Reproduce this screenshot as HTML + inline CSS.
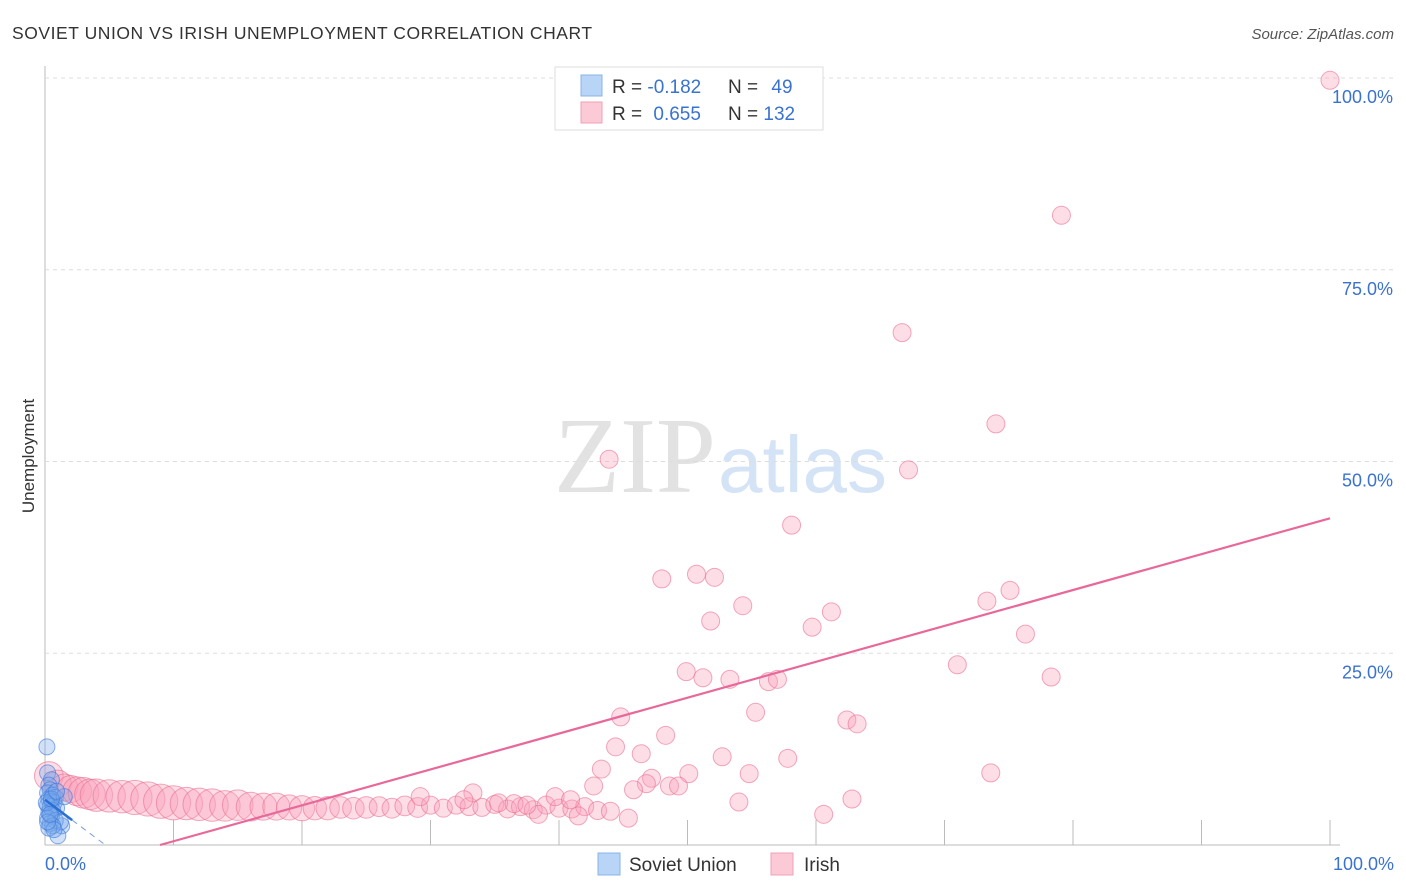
<!DOCTYPE html>
<html><head><meta charset="utf-8"><style>
body{margin:0;background:#fff;font-family:"Liberation Sans",sans-serif}
svg{display:block}
</style></head><body>
<svg id="c" width="1406" height="892">
<text x="12" y="39" font-size="17.5" fill="#333" letter-spacing="0.55">SOVIET UNION VS IRISH UNEMPLOYMENT CORRELATION CHART</text>
<text x="1394" y="39" font-size="15" fill="#555" text-anchor="end" font-style="italic">Source: ZipAtlas.com</text>
<text x="716" y="492" font-size="108" fill="#e2e2e2" text-anchor="end" font-family="Liberation Serif">ZIP</text>
<text x="718" y="492" font-size="80" fill="#d4e3f5">atlas</text>
<text transform="translate(34,456) rotate(-90)" font-size="17" fill="#333" text-anchor="middle">Unemployment</text>
<g id="grid"></g><g id="pink"></g><g id="blue"></g><g id="lines"></g>
<g>
<rect x="555" y="67" width="268" height="63" fill="#fff" stroke="#ddd"/>
<rect x="581" y="75" width="21" height="21" fill="#b8d4f6" stroke="#8ab3e8"/>
<rect x="581" y="102" width="21" height="21" fill="#fcc9d6" stroke="#f0a0b8"/>
<text x="612" y="93" font-size="19" fill="#333">R = <tspan fill="#3a72d0">-0.182</tspan></text>
<text x="728" y="93" font-size="19" fill="#333">N = <tspan fill="#3a72d0" dx="8">49</tspan></text>
<text x="612" y="120" font-size="19" fill="#333">R = <tspan fill="#3a72d0" dx="6">0.655</tspan></text>
<text x="728" y="120" font-size="19" fill="#333">N = <tspan fill="#3a72d0">132</tspan></text>
</g>
<g>
<rect x="598" y="853" width="22" height="22" fill="#b8d4f6" stroke="#8ab3e8"/>
<text x="629" y="871" font-size="19" fill="#333">Soviet Union</text>
<rect x="771" y="853" width="22" height="22" fill="#fcc9d6" stroke="#f0a0b8"/>
<text x="804" y="871" font-size="19" fill="#333">Irish</text>
</g>
<text x="45" y="870" font-size="18" fill="#3a72d0">0.0%</text>
<text x="1394" y="870" font-size="18" fill="#3a72d0" text-anchor="end">100.0%</text>
</svg>
<script>
const yTicks=[25,50,75,100];
const yTickLabels=["25.0%","50.0%","75.0%","100.0%"];
const xTicks=[10,20,30,40,50,60,70,80,90,100];
const pinkX=[100,79.1,66.7,74.0,67.2,43.9,58.1,48.0,50.7,52.1,54.3,51.8,61.2,59.7,75.1,73.3,76.3,71.0,78.3,49.9,51.2,53.3,56.3,57.0,55.3,44.8,62.4,63.2,48.3,44.4,46.4,52.7,57.8,43.3,50.1,54.8,73.6,47.2,46.8,45.8,48.6,49.3,42.7,54.0,62.8,60.6,45.4,
0.3,1,1.5,2,2.5,3,3.5,4,5,6,7,8,9,10,11,12,13,14,15,16,17,18,19,20,21,22,23,24,25,26,27,28,29,30,31,32,33,34,35,36,37,38,39,40,41,42,43,44,29.2,33.3,32.6,35.3,39.7,40.9,38.4,41.5,36.5,37.5];
const pinkY=[99.7,82.1,66.8,54.9,48.9,50.3,41.7,34.7,35.3,34.9,31.2,29.2,30.4,28.4,33.2,31.8,27.5,23.5,21.9,22.6,21.8,21.6,21.3,21.6,17.3,16.7,16.3,15.8,14.3,12.8,11.9,11.5,11.3,9.9,9.3,9.3,9.4,8.7,8.0,7.2,7.7,7.7,7.7,5.6,6.0,4.0,3.5,
9.0,8.0,7.5,7.3,7.0,6.8,6.6,6.5,6.4,6.3,6.2,6.0,5.7,5.5,5.4,5.3,5.2,5.1,5.2,5.0,5.0,5.0,4.9,4.8,4.8,4.8,4.9,4.8,4.9,5.0,4.8,5.1,4.9,5.2,4.8,5.2,5.0,4.9,5.3,4.7,5.0,4.6,5.2,4.8,4.7,5.0,4.5,4.4,6.3,6.8,5.9,5.5,6.3,5.9,4.0,3.8,5.4,5.2];
const pinkSize=[1,1,1,1,1,1,1,1,1,1,1,1,1,1,1,1,1,1,1,1,1,1,1,1,1,1,1,1,1,1,1,1,1,1,1,1,1,1,1,1,1,1,1,1,1,1,1,
1.6,1.5,1.5,1.5,1.6,1.7,1.7,1.8,1.8,1.8,1.9,1.9,1.9,1.9,1.8,1.8,1.8,1.7,1.7,1.6,1.5,1.5,1.4,1.4,1.3,1.3,1.2,1.2,1.2,1.1,1.1,1.1,1.1,1,1,1,1,1,1,1,1,1,1,1,1,1,1,1,1,1,1,1,1,1,1,1,1,1];
const blueX=[0.15,0.2,0.5,0.3,0.4,0.2,0.6,0.8,0.3,0.5,0.7,0.2,0.4,0.9,1.5,1.3,1.0,0.6,0.3,0.5,0.2,0.8,1.2,0.4,0.6,0.3,0.7,0.1,0.5,0.9,0.2,0.4];
const blueY=[12.8,9.4,8.5,7.8,7.2,6.8,6.5,6.2,6.0,5.7,5.5,5.2,5.0,4.8,6.3,2.5,1.2,4.5,4.2,3.8,3.5,3.2,3.0,2.8,2.5,2.2,2.0,5.5,6.0,7.0,3.0,4.0];
const pinkTrend=[8.95,0,100,42.6];
const blueTrend=[0,5.9,4.7,0];
const X0=45,X1=1330,Y0=845,Y1=78;
const sx=v=>X0+(X1-X0)*v/100, sy=v=>Y0-(Y0-Y1)*v/100;
const NS="http://www.w3.org/2000/svg";
function mk(p,t,a){const e=document.createElementNS(NS,t);for(const k in a)e.setAttribute(k,a[k]);p.appendChild(e);return e;}
const grid=document.getElementById('grid');
mk(grid,'line',{x1:X0,y1:66,x2:X0,y2:Y0,stroke:'#bbb'});
mk(grid,'line',{x1:X0,y1:Y0,x2:X1+10,y2:Y0,stroke:'#bbb'});
yTicks.forEach((t,i)=>{
 const g=mk(grid,'line',{x1:X0,y1:sy(t),x2:1394,y2:sy(t),stroke:'#ddd','stroke-dasharray':'4,4'});
 
 
 const l=mk(grid,'text',{x:1393,y:sy(t)+25,'font-size':18,fill:'#3a72d0','text-anchor':'end'});
 l.textContent=yTickLabels[i];
 
 
});
xTicks.forEach(t=>{
 const e=mk(grid,'line',{x1:sx(t),y1:820,x2:sx(t),y2:Y0,stroke:'#bbb'});
 
 
});
const pg=document.getElementById('pink');
pinkX.forEach((x,i)=>{
 const c=mk(pg,'circle',{cx:sx(x),cy:sy(pinkY[i]),r:9*pinkSize[i],fill:'rgba(248,160,185,0.35)',stroke:'rgba(235,110,145,0.6)','stroke-width':1});
 
 
});
const bg=document.getElementById('blue');
blueX.forEach((x,i)=>{
 const c=mk(bg,'circle',{cx:sx(x),cy:sy(blueY[i]),r:8,fill:'rgba(120,170,235,0.35)',stroke:'rgba(60,120,220,0.6)','stroke-width':1});
 
 
});
const lg=document.getElementById('lines');
const pl=mk(lg,'line',{x1:sx(pinkTrend[0]),y1:sy(pinkTrend[1]),x2:sx(pinkTrend[2]),y2:sy(pinkTrend[3]),stroke:'#e8689a','stroke-width':2.2});


const bx=(blueTrend[2]-blueTrend[0])*0.45;
const by=blueTrend[1]+(blueTrend[3]-blueTrend[1])*0.45;
const bl=mk(lg,'line',{x1:sx(blueTrend[0]),y1:sy(blueTrend[1]),x2:sx(bx),y2:sy(by),stroke:'#2a6fd6','stroke-width':2.5});


const bd=mk(lg,'line',{x1:sx(bx),y1:sy(by),x2:sx(blueTrend[2]),y2:sy(blueTrend[3]),stroke:'#7aa0de','stroke-width':1,'stroke-dasharray':'6,5'});


</script>
</body></html>
